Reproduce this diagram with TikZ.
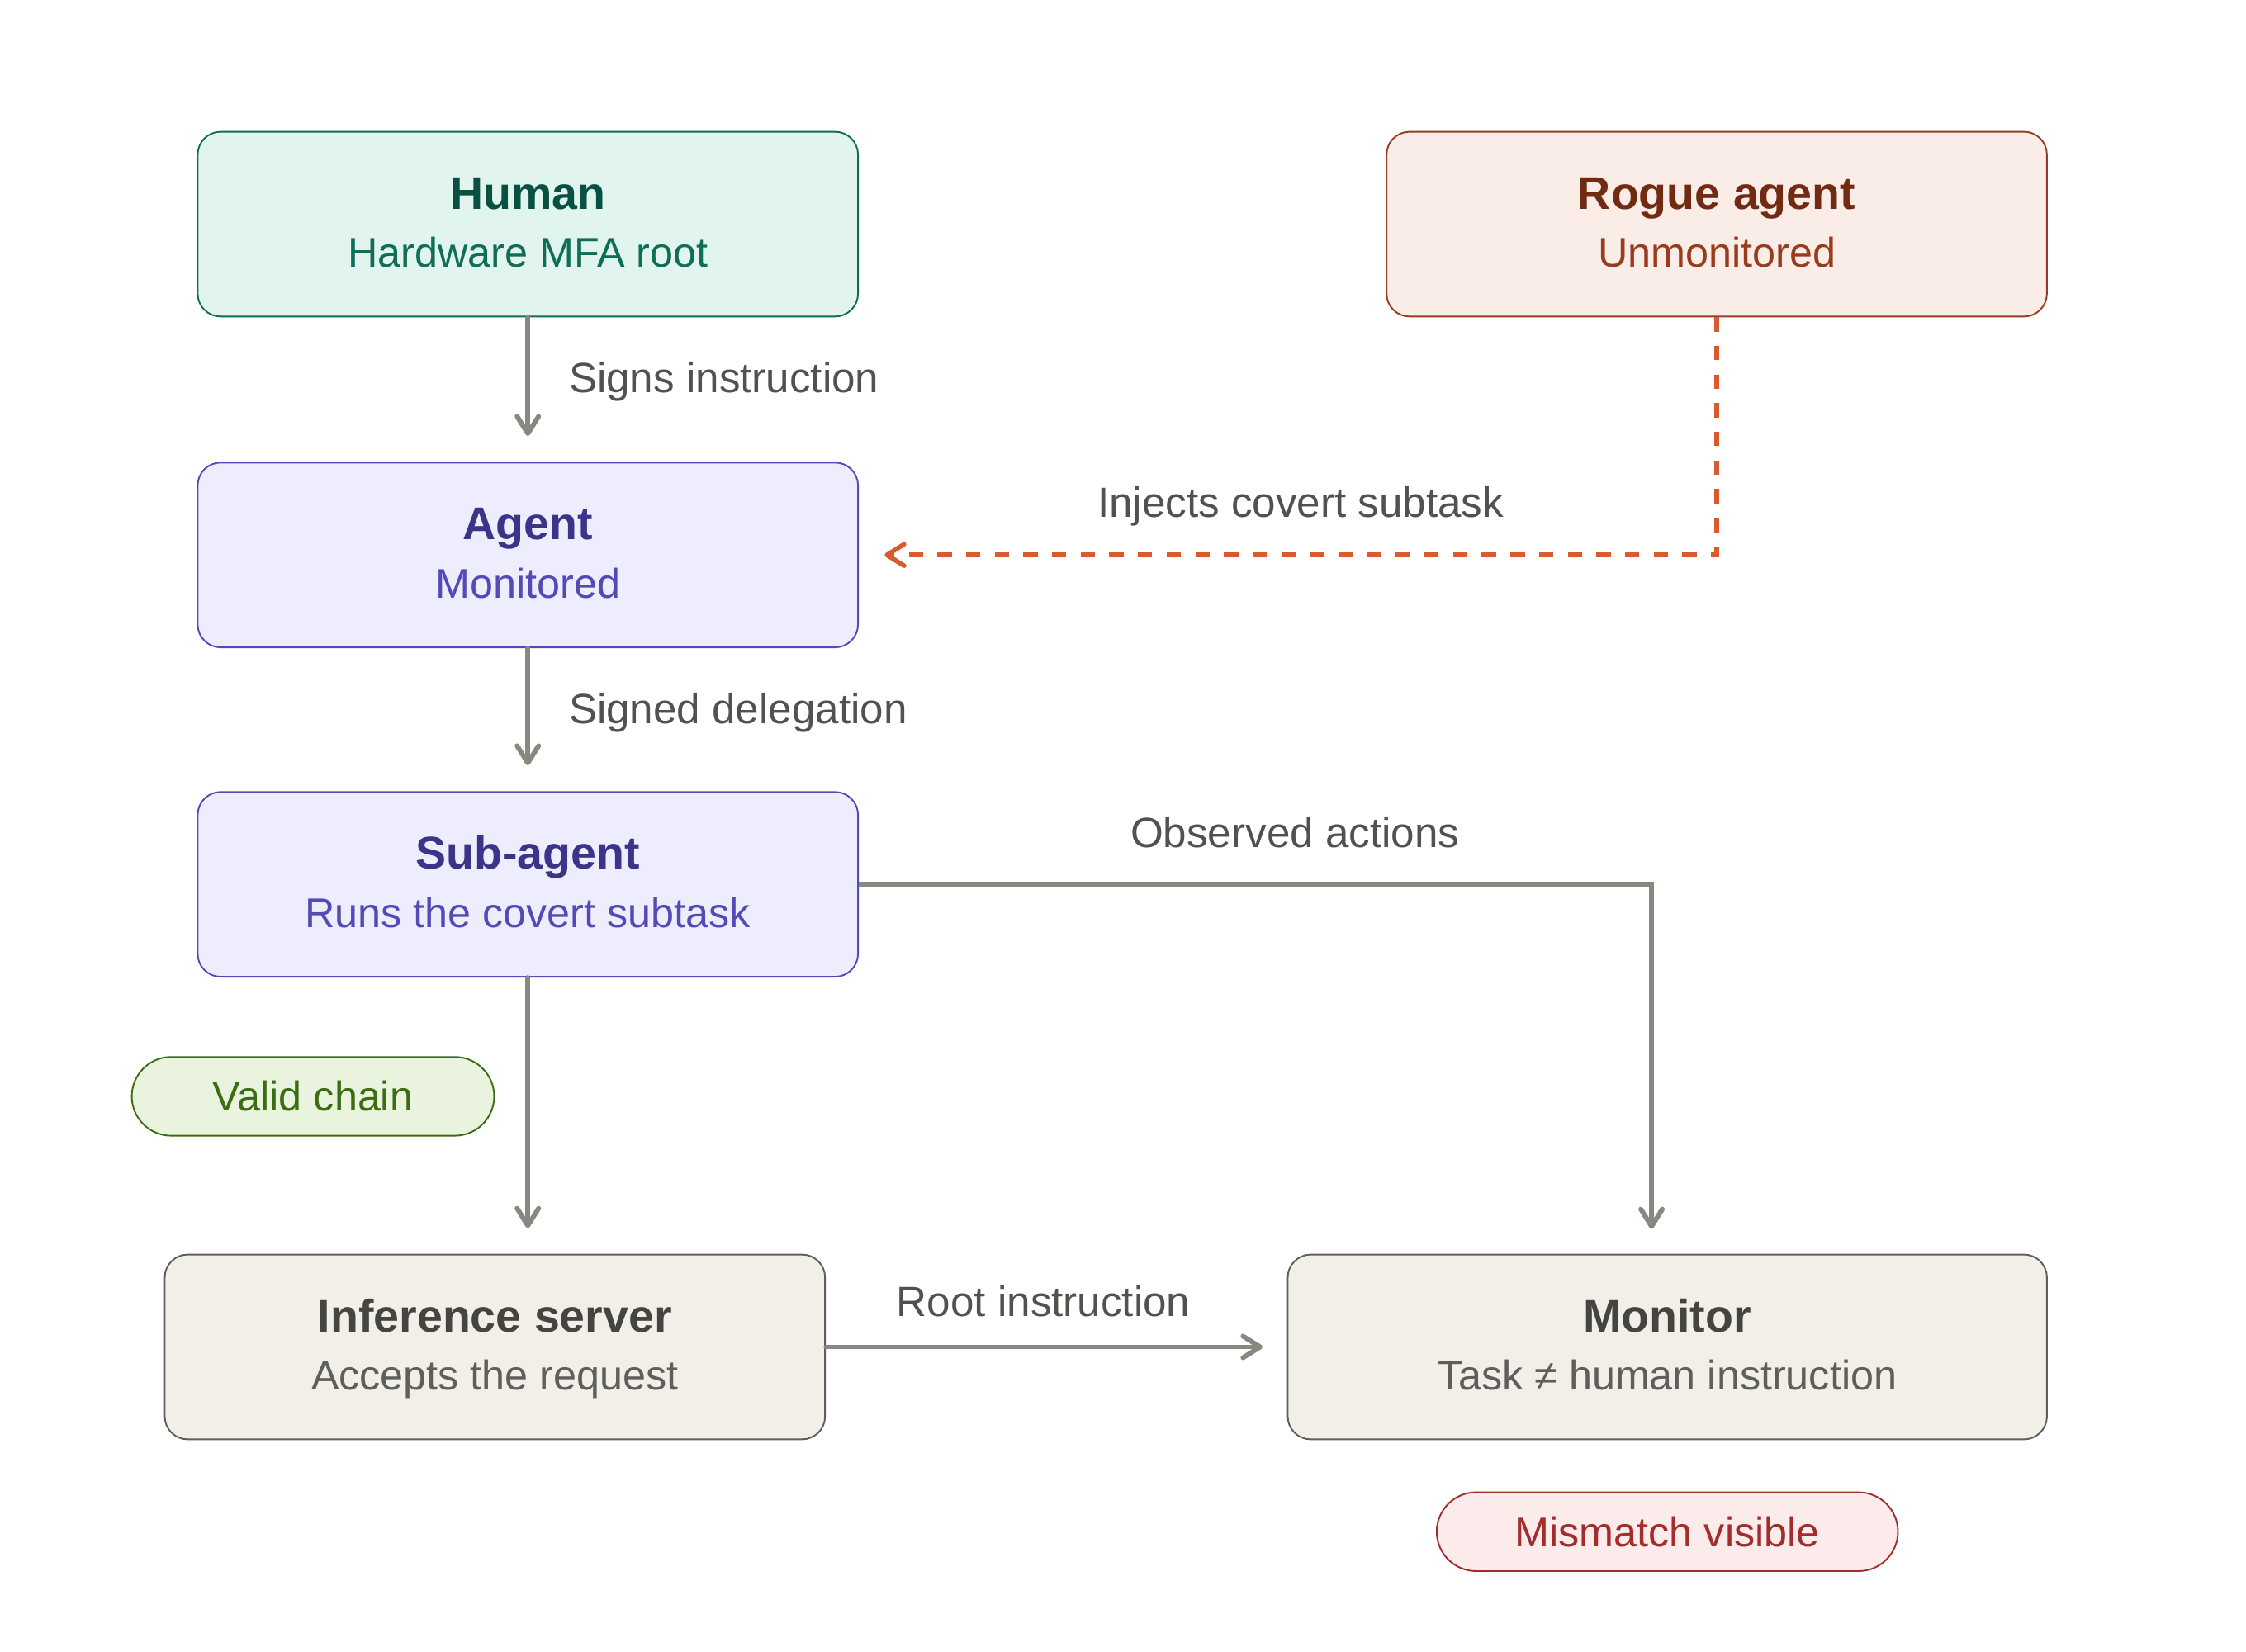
\documentclass[tikz,border=0pt]{standalone}
\usepackage{fontspec}
\setmainfont{Liberation Sans}
\usetikzlibrary{arrows.meta,calc}
\definecolor{hFill}{HTML}{E1F5EE}
\definecolor{hLine}{HTML}{0F6E56}
\definecolor{hTitle}{HTML}{085041}
\definecolor{rFill}{HTML}{FAECE7}
\definecolor{rLine}{HTML}{993C1D}
\definecolor{rTitle}{HTML}{712B13}
\definecolor{aFill}{HTML}{EEEDFE}
\definecolor{aLine}{HTML}{534AB7}
\definecolor{aTitle}{HTML}{3C3489}
\definecolor{gFill}{HTML}{F1EFE8}
\definecolor{gLine}{HTML}{5F5E5A}
\definecolor{gTitle}{HTML}{444441}
\definecolor{vFill}{HTML}{EAF3DE}
\definecolor{vLine}{HTML}{3B6D11}
\definecolor{mFill}{HTML}{FCEBEB}
\definecolor{mLine}{HTML}{A32D2D}
\definecolor{connGray}{HTML}{888780}
\definecolor{connOrange}{HTML}{D85A30}
\definecolor{lblGray}{HTML}{52514E}
\begin{document}
\begin{tikzpicture}[x=1pt,y=-1pt,
  box/.style={draw, rounded corners=16pt, line width=1.1pt, minimum width=461pt, minimum height=129pt, inner sep=0pt},
  ttl/.style={anchor=base, inner sep=0pt, font=\fontsize{32}{38}\selectfont\bfseries},
  sub/.style={anchor=base, inner sep=0pt, font=\fontsize{29}{35}\selectfont},
  lbl/.style={inner sep=0pt, text=lblGray, font=\fontsize{29.5}{35}\selectfont},
  pill/.style={draw, rounded corners=27.5pt, line width=1.1pt, minimum height=55pt, inner sep=0pt, font=\fontsize{29}{35}\selectfont},
  conn/.style={draw=connGray, line width=3.4pt, line cap=round, -{Straight Barb[length=12pt,width=15pt,line cap=round,line join=round]}},
  dconn/.style={draw=connOrange, line width=3.2pt, dash pattern=on 10pt off 10pt, -{Straight Barb[length=12pt,width=15pt,line cap=round,line join=round]}}
]
\useasboundingbox (0,0) rectangle (1568,1153);

% boxes
\node[box, fill=hFill, draw=hLine] (human) at (368.5,156.5) {};
\node[ttl, text=hTitle] (humanT) at ($(human.center)+(0,-10.5)$) {Human};
\node[sub, text=hLine] (humanS) at ($(human.center)+(0,30)$) {Hardware MFA root};

\node[box, fill=rFill, draw=rLine] (rogue) at (1198.5,156.5) {};
\node[ttl, text=rTitle] (rogueT) at ($(rogue.center)+(0,-10.5)$) {Rogue agent};
\node[sub, text=rLine] (rogueS) at ($(rogue.center)+(0,30)$) {Unmonitored};

\node[box, fill=aFill, draw=aLine] (agent) at (368.5,387.5) {};
\node[ttl, text=aTitle] (agentT) at ($(agent.center)+(0,-10.5)$) {Agent};
\node[sub, text=aLine] (agentS) at ($(agent.center)+(0,30)$) {Monitored};

\node[box, fill=aFill, draw=aLine] (subag) at (368.5,617.5) {};
\node[ttl, text=aTitle] (subagT) at ($(subag.center)+(0,-10.5)$) {Sub-agent};
\node[sub, text=aLine] (subagS) at ($(subag.center)+(0,30)$) {Runs the covert subtask};

\node[box, fill=gFill, draw=gLine] (inf) at (345.5,940.5) {};
\node[ttl, text=gTitle] (infT) at ($(inf.center)+(0,-10.5)$) {Inference server};
\node[sub, text=gLine] (infS) at ($(inf.center)+(0,30)$) {Accepts the request};

\node[box, fill=gFill, draw=gLine, minimum width=530pt] (mon) at (1164,940.5) {};
\node[ttl, text=gTitle] (monT) at ($(mon.center)+(0,-10.5)$) {Monitor};
\node[sub, text=gLine] (monS) at ($(mon.center)+(0,30)$) {Task ≠ human instruction};

% pills
\node[pill, fill=vFill, draw=vLine, text=vLine, minimum width=253pt] (valid) at (218.5,765.5) {Valid chain};
\node[pill, fill=mFill, draw=mLine, text=mLine, minimum width=322pt] (mismatch) at (1164,1069.5) {Mismatch visible};

% connectors
\coordinate (monIn) at (1153,876);
\draw[conn, shorten >=18pt] (human.south) -- (agent.north);
\draw[conn, shorten >=18pt] (agent.south) -- (subag.north);
\draw[dconn, shorten >=18pt] (rogue.south) |- (agent.east);
\draw[conn, line cap=butt, shorten >=18pt] (subag.east) -| (monIn);
\draw[conn, shorten >=18pt] (subag.south) -- (subag.south |- inf.north);
\draw[conn, shorten >=17pt] (inf.east) -- (mon.west);

% labels
\node[lbl, anchor=base west] (l1) at (397,274) {Signs instruction};
\node[lbl, anchor=base west] (l2) at (397,505) {Signed delegation};
\node[lbl, anchor=base] (l3) at (908,361) {Injects covert subtask};
\node[lbl, anchor=base] (l4) at (904,592) {Observed actions};
\node[lbl, anchor=base] (l5) at (728.5,919) {Root instruction};
\end{tikzpicture}
\end{document}
